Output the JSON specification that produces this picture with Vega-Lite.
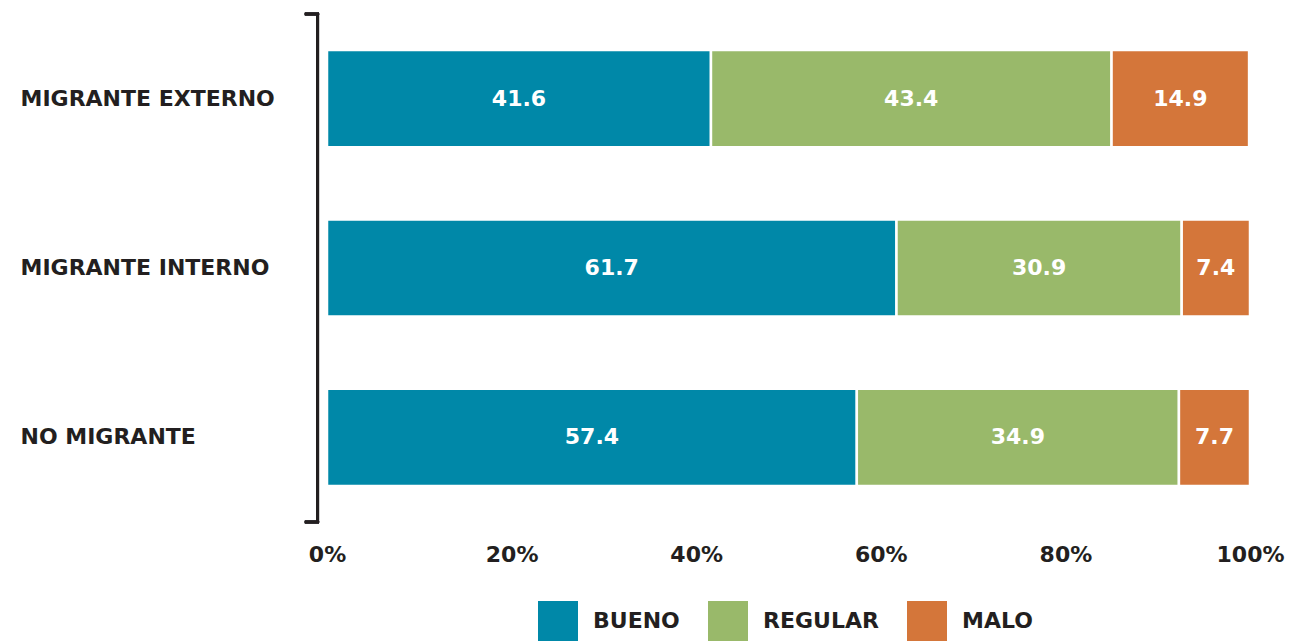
{
  "$schema": "https://vega.github.io/schema/vega-lite/v6.json",
  "width": 923,
  "height": 508,
  "autosize": {"type": "none"},
  "padding": {"left": 327, "top": 14, "right": 40, "bottom": 119},
  "background": "white",
  "config": {"view": {"stroke": null}},
  "data": {
    "values": [
      {"cat": "MIGRANTE EXTERNO", "estado": "BUENO", "k": 1, "v": 41.6},
      {"cat": "MIGRANTE EXTERNO", "estado": "REGULAR", "k": 2, "v": 43.4},
      {"cat": "MIGRANTE EXTERNO", "estado": "MALO", "k": 3, "v": 14.9},
      {"cat": "MIGRANTE INTERNO", "estado": "BUENO", "k": 1, "v": 61.7},
      {"cat": "MIGRANTE INTERNO", "estado": "REGULAR", "k": 2, "v": 30.9},
      {"cat": "MIGRANTE INTERNO", "estado": "MALO", "k": 3, "v": 7.4},
      {"cat": "NO MIGRANTE", "estado": "BUENO", "k": 1, "v": 57.4},
      {"cat": "NO MIGRANTE", "estado": "REGULAR", "k": 2, "v": 34.9},
      {"cat": "NO MIGRANTE", "estado": "MALO", "k": 3, "v": 7.7}
    ]
  },
  "transform": [
    {"stack": "v", "groupby": ["cat"], "sort": [{"field": "k"}], "as": ["v0", "v1"]},
    {"calculate": "(datum.v0 + datum.v1) / 2", "as": "vm"}
  ],
  "layer": [
    {
      "mark": {"type": "bar", "height": {"band": 0.574}, "stroke": "white", "strokeWidth": 2.5},
      "encoding": {
        "y": {
          "field": "cat", "type": "nominal",
          "sort": ["MIGRANTE EXTERNO", "MIGRANTE INTERNO", "NO MIGRANTE"],
          "scale": {"paddingInner": 0, "paddingOuter": 0},
          "axis": {
            "title": null, "domain": false, "ticks": false, "tickSize": 0,
            "labelAlign": "left", "labelPadding": 307, "labelLimit": 400,
            "labelFont": "DejaVu Sans", "labelFontWeight": "bold", "labelFontSize": 22,
            "labelColor": "#231F20"
          }
        },
        "x": {
          "field": "v0", "type": "quantitative",
          "scale": {"domain": [0, 100], "nice": false},
          "axis": {
            "title": null, "domain": false, "ticks": false, "grid": false,
            "values": [0, 20, 40, 60, 80, 100],
            "labelExpr": "datum.value + '%'",
            "labelFlush": false, "labelPadding": 22,
            "labelFont": "DejaVu Sans", "labelFontWeight": "bold", "labelFontSize": 22,
            "labelColor": "#231F20"
          }
        },
        "x2": {"field": "v1"},
        "color": {
          "field": "estado", "type": "nominal",
          "scale": {"domain": ["BUENO", "REGULAR", "MALO"], "range": ["#0088A8", "#99B96A", "#D4763A"]},
          "legend": {
            "title": null, "orient": "none", "direction": "horizontal",
            "legendX": 211, "legendY": 587,
            "symbolType": "square", "symbolSize": 1600, "symbolStrokeWidth": 0,
            "labelFont": "DejaVu Sans", "labelFontWeight": "bold", "labelFontSize": 22,
            "labelColor": "#231F20", "labelOffset": 15, "columnPadding": 28,
            "encode": {
              "symbols": {
                "enter": {
                  "fill": {"signal": "datum.label === 'BUENO' ? '#0474B0' : datum.label === 'REGULAR' ? '#99B96A' : '#D4763A'"}
                },
                "update": {
                  "fill": {"signal": "datum.label === 'BUENO' ? '#0474B0' : datum.label === 'REGULAR' ? '#99B96A' : '#D4763A'"},
                  "opacity": {"value": 1}
                }
              }
            }
          }
        }
      }
    },
    {
      "mark": {"type": "text", "color": "white", "font": "DejaVu Sans", "fontWeight": "bold", "fontSize": 22, "baseline": "middle", "align": "center"},
      "encoding": {
        "y": {"field": "cat", "type": "nominal", "sort": ["MIGRANTE EXTERNO", "MIGRANTE INTERNO", "NO MIGRANTE"]},
        "x": {"field": "vm", "type": "quantitative"},
        "text": {"field": "v", "type": "quantitative", "format": ".1f"}
      }
    },
    {
      "mark": {"type": "rule", "color": "#231F20", "strokeWidth": 2.5},
      "encoding": {"x": {"datum": -1.0}}
    },
    {
      "mark": {"type": "rule", "color": "#231F20", "strokeWidth": 2.5},
      "encoding": {
        "x": {"datum": -2.4}, "x2": {"datum": -0.86},
        "y": {"datum": "MIGRANTE EXTERNO", "bandPosition": 0}
      }
    },
    {
      "mark": {"type": "rule", "color": "#231F20", "strokeWidth": 2.5},
      "encoding": {
        "x": {"datum": -2.4}, "x2": {"datum": -0.86},
        "y": {"datum": "NO MIGRANTE", "bandPosition": 1}
      }
    }
  ]
}
